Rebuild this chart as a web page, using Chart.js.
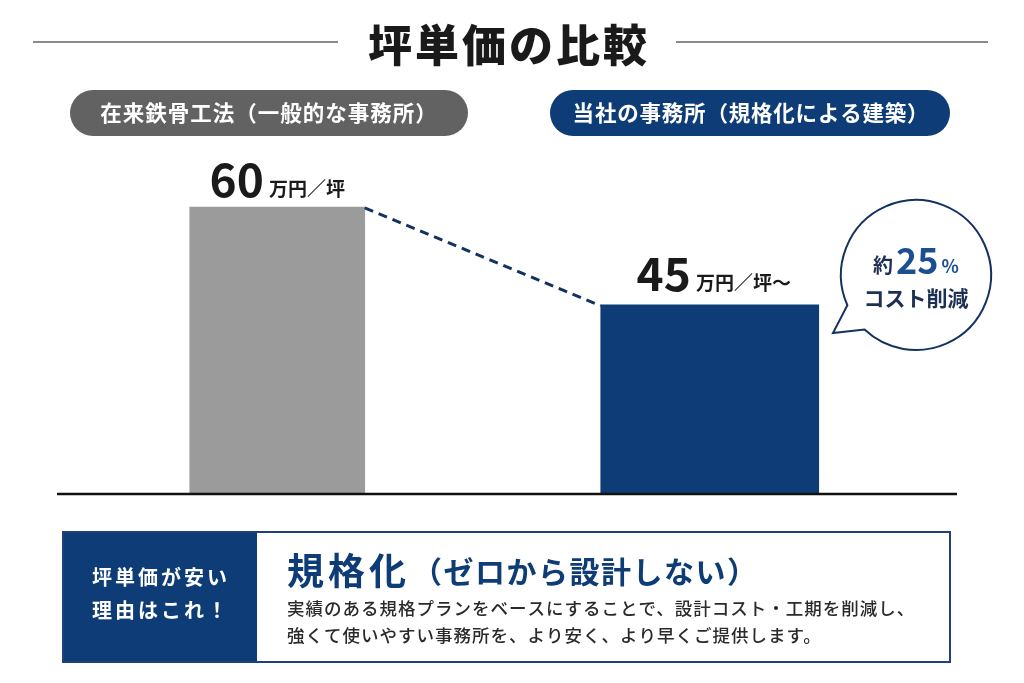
<!DOCTYPE html>
<html>
<head>
<meta charset="utf-8">
<script src="https://cdn.jsdelivr.net/npm/chart.js@4"></script>
<style>
html,body{margin:0;padding:0;background:#fff;}
#wrap{width:1024px;height:683px;position:relative;}
</style>
</head>
<body>
<div id="wrap"><canvas id="c" width="1024" height="683"></canvas></div>
<script>
// ---- data ----
const chartTitle = '坪単価の比較';
const categories = ['在来鉄骨工法（一般的な事務所）', '当社の事務所（規格化による建築）'];
const priceValues = [60, 45];
const valueUnits = ['万円／坪', '万円／坪〜'];
const reductionPct = 25;
const reasonLabel = ['坪単価が安い', '理由はこれ！'];
const reasonHeadMain = '規格化';
const reasonHeadSub = '（ゼロから設計しない）';
const reasonBody = ['実績のある規格プランをベースにすることで、設計コスト・工期を削減し、',
                    '強くて使いやすい事務所を、より安く、より早くご提供します。'];

const FONT = '"Noto Sans CJK JP","Noto Sans",sans-serif';
const NAVY = '#0e3c76';
const GRAY_BAR = '#9b9b9b';
const GRAY_PILL = '#626262';

function txt(ctx, s, x, y, size, color, opts) {
  opts = opts || {};
  ctx.save();
  ctx.font = (opts.weight || 'bold') + ' ' + size + 'px ' + FONT;
  ctx.fillStyle = color;
  ctx.textAlign = opts.align || 'left';
  ctx.textBaseline = opts.baseline || 'alphabetic';
  if ('letterSpacing' in ctx) ctx.letterSpacing = (opts.spacing || 0) + 'px';
  ctx.fillText(s, x, y);
  const w = ctx.measureText(s).width;
  ctx.restore();
  return w;
}
function measure(ctx, s, size, spacing, weight) {
  ctx.save();
  ctx.font = (weight || 'bold') + ' ' + size + 'px ' + FONT;
  if ('letterSpacing' in ctx) ctx.letterSpacing = (spacing || 0) + 'px';
  const w = ctx.measureText(s).width;
  ctx.restore();
  return w;
}
function pill(ctx, x1, y1, x2, y2, color) {
  const r = (y2 - y1) / 2;
  ctx.save();
  ctx.beginPath();
  ctx.moveTo(x1 + r, y1);
  ctx.lineTo(x2 - r, y1);
  ctx.arc(x2 - r, y1 + r, r, -Math.PI / 2, Math.PI / 2);
  ctx.lineTo(x1 + r, y2);
  ctx.arc(x1 + r, y1 + r, r, Math.PI / 2, Math.PI * 1.5);
  ctx.closePath();
  ctx.fillStyle = color;
  ctx.fill();
  ctx.restore();
}

const decor = {
  id: 'decor',
  beforeDatasetsDraw(chart) {
    const ctx = chart.ctx;
    // title lines
    ctx.save();
    ctx.strokeStyle = '#8a8a8a';
    ctx.lineWidth = 2;
    ctx.beginPath();
    ctx.moveTo(33, 42); ctx.lineTo(338, 42);
    ctx.moveTo(676, 42); ctx.lineTo(988, 42);
    ctx.stroke();
    ctx.restore();
    txt(ctx, chartTitle, 509, 62, 44, '#1a1a1a', {align: 'center', spacing: 3, weight: '900'});

    // pills
    pill(ctx, 70, 90, 468, 136, GRAY_PILL);
    pill(ctx, 550, 90, 950, 136, NAVY);
    txt(ctx, categories[0], 269, 121, 21.5, '#ffffff', {align: 'center', spacing: 1});
    txt(ctx, categories[1], 751, 121, 21.5, '#ffffff', {align: 'center', spacing: 0.8});
  },
  afterDatasetsDraw(chart) {
    const ctx = chart.ctx;
    const b0 = chart.getDatasetMeta(0).data[0];
    const b1 = chart.getDatasetMeta(1).data[1];

    // baseline
    const yBase = chart.scales.y.getPixelForValue(chart.scales.y.min);
    ctx.save();
    ctx.strokeStyle = '#111';
    ctx.lineWidth = 2.5;
    ctx.beginPath();
    ctx.moveTo(57, yBase); ctx.lineTo(957, yBase);
    ctx.stroke();
    ctx.restore();

    // dashed connector
    ctx.save();
    ctx.strokeStyle = '#13325f';
    ctx.lineWidth = 3;
    ctx.setLineDash([9, 6]);
    ctx.beginPath();
    ctx.moveTo(b0.x + b0.width / 2, b0.y + 1);
    ctx.lineTo(b1.x - b1.width / 2, b1.y + 1);
    ctx.stroke();
    ctx.restore();

    // value labels
    const bars = [b0, b1];
    bars.forEach((b, i) => {
      const num = String(priceValues[i]);
      const wNum = measure(ctx, num, 46, 0);
      const wUnit = measure(ctx, valueUnits[i], 19, 0);
      const gap = 5;
      const total = wNum + gap + wUnit;
      const x0 = b.x - total / 2 + (i === 1 ? 4 : 0);
      const yb = b.y - (i === 0 ? 10 : 14);
      txt(ctx, num, x0, yb, 46, '#1a1a1a');
      txt(ctx, valueUnits[i], x0 + wNum + gap, yb - 1, 19, '#1a1a1a');
    });

    // speech bubble
    const cx = 916, cy = 275, r = 75;
    const a1 = Math.atan2(305 - cy, 848 - cx);
    const a2 = Math.atan2(328 - cy, 866 - cx) + Math.PI * 2;
    ctx.save();
    ctx.beginPath();
    ctx.arc(cx, cy, r, a1, a2);
    ctx.lineTo(833, 333);
    ctx.closePath();
    ctx.fillStyle = '#fff';
    ctx.fill();
    ctx.strokeStyle = '#13325f';
    ctx.lineWidth = 2;
    ctx.lineJoin = 'miter';
    ctx.stroke();
    ctx.restore();
    const wYaku = measure(ctx, '約', 20, 0);
    const wPct = measure(ctx, String(reductionPct), 36, 0);
    const wSym = measure(ctx, '%', 18, 0);
    let sx = cx - (wYaku + 3 + wPct + 3 + wSym) / 2;
    txt(ctx, '約', sx, 273, 20, '#1d2f52');
    sx += wYaku + 3;
    txt(ctx, String(reductionPct), sx, 274, 36, '#1c4f92');
    sx += wPct + 3;
    txt(ctx, '%', sx, 273, 18, '#1c4f92');
    txt(ctx, 'コスト削減', cx, 306, 21, '#1d2f52', {align: 'center'});

    // bottom box
    ctx.save();
    ctx.fillStyle = NAVY;
    ctx.fillRect(63, 532, 194, 130);
    ctx.strokeStyle = '#20407a';
    ctx.lineWidth = 2;
    ctx.strokeRect(63, 532, 887, 130);
    ctx.restore();
    txt(ctx, reasonLabel[0], 161, 585, 20, '#ffffff', {align: 'center', spacing: 3});
    txt(ctx, reasonLabel[1], 161, 618, 20, '#ffffff', {align: 'center', spacing: 3});
    const wMain = txt(ctx, reasonHeadMain, 287, 585, 37, NAVY, {spacing: 4});
    txt(ctx, reasonHeadSub, 287 + wMain + 2, 583, 30, NAVY, {spacing: 1.5});
    txt(ctx, reasonBody[0], 287, 615, 17.5, '#2a2a2a', {weight: '500', spacing: 1});
    txt(ctx, reasonBody[1], 287, 642, 17.5, '#2a2a2a', {weight: '500', spacing: 1});
  }
};

const ctx = document.getElementById('c').getContext('2d');
new Chart(ctx, {
  type: 'bar',
  data: {
    labels: categories,
    datasets: [
      {
        data: priceValues.map((v, i) => i === 0 ? v : null),
        backgroundColor: GRAY_BAR,
        barThickness: 175,
        grouped: false
      },
      {
        data: priceValues.map((v, i) => i === 1 ? v : null),
        backgroundColor: NAVY,
        barThickness: 218,
        grouped: false
      }
    ]
  },
  options: {
    responsive: false,
    animation: false,
    devicePixelRatio: 1,
    layout: {padding: {left: 61, right: 98, top: 76.5, bottom: 189}},
    plugins: {legend: {display: false}, tooltip: {enabled: false}},
    scales: {
      x: {display: false, offset: true},
      y: {display: false, min: 16, max: 80}
    }
  },
  plugins: [decor]
});
</script>
</body>
</html>
